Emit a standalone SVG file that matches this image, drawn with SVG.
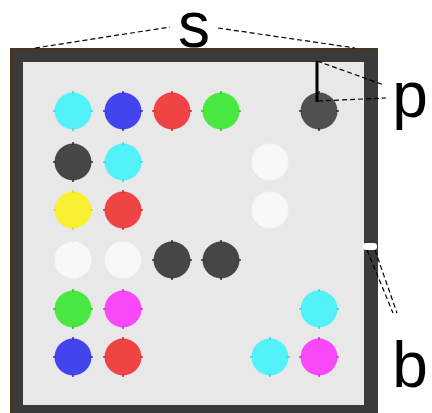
<svg xmlns="http://www.w3.org/2000/svg" xmlns:xlink="http://www.w3.org/1999/xlink" width="432" height="413" viewBox="0 0 432 413">
<style>
.lbl{font-family:"Liberation Sans",Arial,sans-serif;font-size:64px;fill:#000}
.dash{stroke:#000;stroke-width:1.2;stroke-dasharray:5,3;fill:none}
.dot circle{stroke:none}
.dot use{stroke-width:1.6}
.cy circle{fill:#52f2f8}.cy use{stroke:#3ad8e0}
.bl circle{fill:#4444ee}.bl use{stroke:#3030c0}
.rd circle{fill:#f04444}.rd use{stroke:#c83030}
.gr circle{fill:#48e840}.gr use{stroke:#38c030}
.dk circle{fill:#464646}.dk use{stroke:#303030}
.wh circle{fill:#f8f8f8}.wh use{stroke:#ececec}
.ye circle{fill:#f8f030}.ye use{stroke:#e0d820}
.mg circle{fill:#f848f8}.mg use{stroke:#d030d0}
</style>
<defs>
<path id="ticks" d="M0,-20V-17M0,17V20M-20,0H-17M17,0H20"/>
</defs>
<rect width="432" height="413" fill="#ffffff"/>
<g id="frame">
<rect x="10" y="48" width="368" height="365" fill="#4a3420"/>
<rect x="13" y="50" width="365" height="363" fill="#3a3a3a"/>
<rect x="23" y="62" width="341" height="343" fill="#e8e8e8"/>
<rect x="363" y="243" width="14" height="7" rx="3" fill="#ffffff"/>
</g>
<g id="n1" class="dot cy" transform="translate(73,111)"><circle r="18.5"/><use xlink:href="#ticks"/></g>
<g id="n2" class="dot bl" transform="translate(123,111)"><circle r="18.5"/><use xlink:href="#ticks"/></g>
<g id="n3" class="dot rd" transform="translate(172,111)"><circle r="18.5"/><use xlink:href="#ticks"/></g>
<g id="n4" class="dot gr" transform="translate(221,111)"><circle r="18.5"/><use xlink:href="#ticks"/></g>
<g id="n5" class="dot dk" transform="translate(319,111)"><circle r="18.5" style="fill:#505050"/><use xlink:href="#ticks"/></g>
<g id="n6" class="dot dk" transform="translate(73,162)"><circle r="18.5"/><use xlink:href="#ticks"/></g>
<g id="n7" class="dot cy" transform="translate(123,162)"><circle r="18.5"/><use xlink:href="#ticks"/></g>
<g id="n8" class="dot wh" transform="translate(270,162)"><circle r="18.5"/><use xlink:href="#ticks"/></g>
<g id="n9" class="dot ye" transform="translate(73,210)"><circle r="18.5"/><use xlink:href="#ticks"/></g>
<g id="n10" class="dot rd" transform="translate(123,210)"><circle r="18.5"/><use xlink:href="#ticks"/></g>
<g id="n11" class="dot wh" transform="translate(270,210)"><circle r="18.5"/><use xlink:href="#ticks"/></g>
<g id="n12" class="dot wh" transform="translate(73,260)"><circle r="18.5"/><use xlink:href="#ticks"/></g>
<g id="n13" class="dot wh" transform="translate(123,260)"><circle r="18.5"/><use xlink:href="#ticks"/></g>
<g id="n14" class="dot dk" transform="translate(172,260)"><circle r="18.5"/><use xlink:href="#ticks"/></g>
<g id="n15" class="dot dk" transform="translate(221,260)"><circle r="18.5"/><use xlink:href="#ticks"/></g>
<g id="n16" class="dot gr" transform="translate(73,309)"><circle r="18.5"/><use xlink:href="#ticks"/></g>
<g id="n17" class="dot mg" transform="translate(123,309)"><circle r="18.5"/><use xlink:href="#ticks"/></g>
<g id="n18" class="dot cy" transform="translate(319,309)"><circle r="18.5"/><use xlink:href="#ticks"/></g>
<g id="n19" class="dot bl" transform="translate(73,357)"><circle r="18.5"/><use xlink:href="#ticks"/></g>
<g id="n20" class="dot rd" transform="translate(123,357)"><circle r="18.5"/><use xlink:href="#ticks"/></g>
<g id="n21" class="dot cy" transform="translate(270,357)"><circle r="18.5"/><use xlink:href="#ticks"/></g>
<g id="n22" class="dot mg" transform="translate(319,357)"><circle r="18.5"/><use xlink:href="#ticks"/></g>
<g id="connectors">
<line x1="317" y1="61" x2="317" y2="102" stroke="#000" stroke-width="3"/>
<line class="dash" x1="35" y1="48" x2="170" y2="27"/>
<line class="dash" x1="218" y1="28" x2="355" y2="48"/>
<line class="dash" x1="317" y1="61" x2="384" y2="85"/>
<line class="dash" x1="318" y1="101" x2="386" y2="98"/>
<line class="dash" x1="367" y1="250" x2="393" y2="313"/>
<line class="dash" x1="375" y1="250" x2="397" y2="313"/>
</g>
<g id="labels">
<text class="lbl" x="194" y="47" text-anchor="middle">s</text>
<text class="lbl" x="410" y="117" text-anchor="middle">p</text>
<text class="lbl" x="410" y="387" text-anchor="middle">b</text>
</g>
</svg>
